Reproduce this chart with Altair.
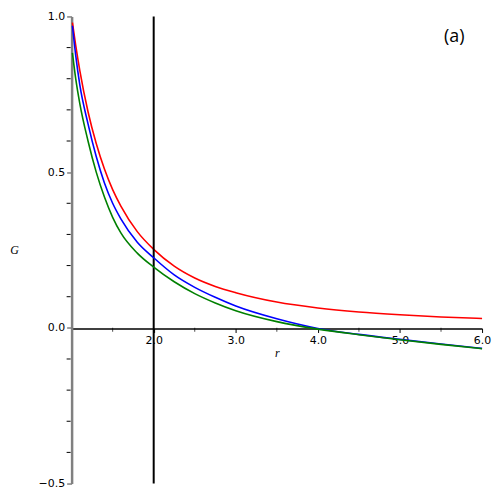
import altair as alt
import pandas as pd

# radial coordinate samples
r_vals = [1.01, 1.05, 1.1, 1.2, 1.3, 1.4, 1.5, 1.6, 1.8, 2.0, 2.25, 2.5, 2.75, 3.0, 3.5, 4.0, 4.5, 5.0, 5.5, 6.0]
# G values
g_red = [0.98, 0.907, 0.826, 0.694, 0.592, 0.510, 0.444, 0.391, 0.309, 0.252, 0.198, 0.160, 0.133, 0.113, 0.083, 0.064, 0.051, 0.042, 0.035, 0.030]
g_blue = [0.97, 0.875, 0.78, 0.655, 0.55, 0.465, 0.40, 0.35, 0.275, 0.225, 0.17, 0.13, 0.098, 0.070, 0.029, -0.002, -0.021, -0.037, -0.052, -0.066]
g_green = [0.883, 0.80, 0.72, 0.60, 0.50, 0.42, 0.355, 0.305, 0.24, 0.195, 0.148, 0.110, 0.080, 0.055, 0.020, -0.004, -0.022, -0.038, -0.053, -0.067]

x_major = [2.0, 3.0, 4.0, 5.0, 6.0]
x_minor = [1.5, 2.5, 3.5, 4.5, 5.5]
y_major = [-0.5, 0.0, 0.5, 1.0]
y_minor = [-0.4, -0.3, -0.2, -0.1, 0.1, 0.2, 0.3, 0.4, 0.6, 0.7, 0.8, 0.9]
vline_x = [2.0]
panel_label = "(a)"

xs = alt.Scale(domain=[1, 6], nice=False, zero=False)
ys = alt.Scale(domain=[-0.5, 1.0], nice=False, zero=False)

x_axis = alt.Axis(
    title="r", values=x_major, offset=-156, format=".1f",
    domainColor="black", domainWidth=1.5, tickColor="black", tickSize=4, tickWidth=1,
    labelFont="DejaVu Sans", labelFontSize=11, labelColor="black", labelPadding=2,
    labelOverlap=False, labelFlush=False, labelBound=False,
    titleFont="Liberation Serif", titleFontStyle="italic", titleFontWeight="normal",
    titleFontSize=12, titlePadding=2, grid=False)
y_axis = alt.Axis(
    title="G", values=y_major, format=".1f",
    domainColor="#808080", domainWidth=2.5, tickColor="#808080", tickSize=5, tickWidth=1.5,
    labelFont="DejaVu Sans", labelFontSize=11, labelColor="black", labelPadding=2,
    labelOverlap=False, labelFlush=False, labelBound=False,
    titleFont="Liberation Serif", titleFontStyle="italic", titleFontWeight="normal",
    titleFontSize=12, titleAngle=0, titleX=-58, titleY=235, titleAlign="center",
    titleBaseline="middle", grid=False)

def series(vals, color, axes=False):
    df = pd.DataFrame({"r": r_vals, "G": vals})
    if axes:
        xenc = alt.X("r:Q", scale=xs, axis=x_axis)
        yenc = alt.Y("G:Q", scale=ys, axis=y_axis)
    else:
        xenc = alt.X("r:Q", scale=xs)
        yenc = alt.Y("G:Q", scale=ys)
    return alt.Chart(df).mark_line(color=color, strokeWidth=1.6, interpolate="monotone").encode(x=xenc, y=yenc)

vline = alt.Chart(pd.DataFrame({"r": vline_x})).mark_rule(color="black", strokeWidth=2).encode(
    x=alt.X("r:Q", scale=xs))

y_minor_ticks = alt.Chart(pd.DataFrame({"G": y_minor})).mark_rule(color="black", strokeWidth=1).encode(
    y=alt.Y("G:Q", scale=ys), x=alt.value(-5), x2=alt.value(-1))

x_minor_ticks = alt.Chart(pd.DataFrame({"r": x_minor, "G": [0.0] * len(x_minor)})).mark_tick(
    color="black", thickness=1, size=4, orient="vertical", yOffset=2).encode(
    x=alt.X("r:Q", scale=xs), y=alt.Y("G:Q", scale=ys))

label = alt.Chart(pd.DataFrame({"t": [panel_label]})).mark_text(
    font="Open Sans", fontSize=18, color="black", align="center", baseline="middle").encode(
    text="t:N", x=alt.value(385), y=alt.value(21))

chart = alt.layer(
    series(g_red, "#ff0000", axes=True),
    vline,
    series(g_blue, "#0000ff"),
    series(g_green, "#008000"),
    y_minor_ticks,
    x_minor_ticks,
    label,
).properties(
    width=413, height=470,
    autosize=alt.AutoSizeParams(type="none"),
    padding={"left": 64, "top": 7, "right": 10, "bottom": 5},
).configure_view(stroke=None)

chart.save("out.html", embed_options={"renderer": "svg", "actions": False})
